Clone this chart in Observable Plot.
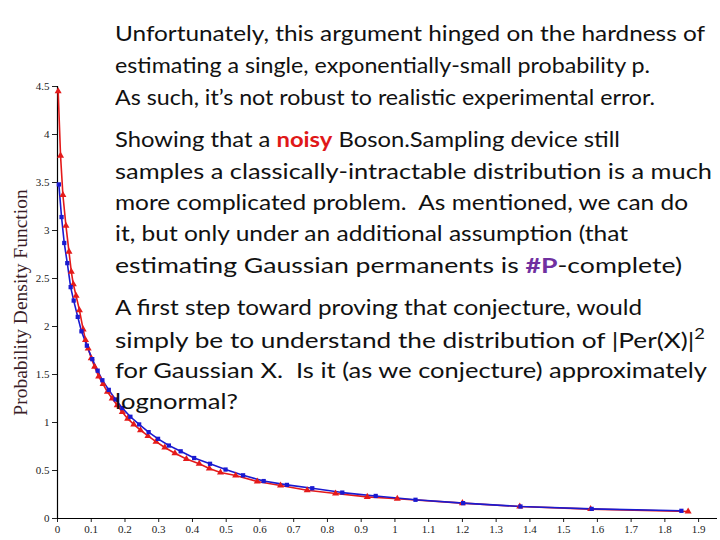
<!DOCTYPE html>
<html>
<head>
<meta charset="utf-8">
<script src="https://cdn.jsdelivr.net/npm/d3@7"></script>
<script src="https://cdn.jsdelivr.net/npm/@observablehq/plot@0.6"></script>
<style>
  html, body { margin: 0; padding: 0; background: #fff; }
  #wrap { position: relative; width: 720px; height: 540px; overflow: hidden; }
  #overlay { position: absolute; left: 115px; top: 0; font-family: Lato, "Open Sans", sans-serif; font-size: 21px; color: #111; }
  .ln { position: absolute; left: 0; white-space: nowrap; transform-origin: 0 50%; line-height: 1; }
  .noisy { color: #e01818; font-weight: bold; }
  .sharp { color: #7030a0; font-weight: bold; }
</style>
</head>
<body>
<div id="wrap"><div id="overlay"></div></div>
<script>
// ---- data ----
const xTicks = [0, 0.1, 0.2, 0.3, 0.4, 0.5, 0.6, 0.7, 0.8, 0.9, 1, 1.1, 1.2, 1.3, 1.4, 1.5, 1.6, 1.7, 1.8, 1.9];
const yTicks = [0, 0.5, 1, 1.5, 2, 2.5, 3, 3.5, 4, 4.5];

const redX = [0.002, 0.009, 0.016, 0.025, 0.034, 0.041, 0.047, 0.055, 0.065, 0.076, 0.083, 0.091, 0.100, 0.110, 0.122, 0.135, 0.148, 0.162, 0.177, 0.192, 0.208, 0.226, 0.246, 0.268, 0.292, 0.318, 0.348, 0.382, 0.420, 0.450, 0.483, 0.528, 0.592, 0.661, 0.740, 0.824, 0.918, 1.007, 1.200, 1.370, 1.580, 1.869];
const redY = [4.45, 3.78, 3.37, 3.05, 2.78, 2.57, 2.44, 2.32, 2.17, 1.97, 1.86, 1.77, 1.67, 1.58, 1.48, 1.40, 1.32, 1.25, 1.18, 1.11, 1.04, 0.98, 0.92, 0.86, 0.80, 0.74, 0.68, 0.62, 0.57, 0.52, 0.48, 0.448, 0.385, 0.344, 0.295, 0.26, 0.225, 0.205, 0.16, 0.125, 0.098, 0.073];

const blueX = [0.004, 0.012, 0.020, 0.029, 0.039, 0.048, 0.060, 0.071, 0.087, 0.103, 0.119, 0.133, 0.152, 0.172, 0.192, 0.216, 0.242, 0.270, 0.298, 0.330, 0.365, 0.405, 0.452, 0.498, 0.550, 0.611, 0.680, 0.755, 0.844, 0.943, 1.061, 1.202, 1.372, 1.583, 1.849];
const blueY = [3.48, 3.14, 2.87, 2.66, 2.41, 2.27, 2.10, 1.95, 1.80, 1.66, 1.54, 1.44, 1.34, 1.24, 1.15, 1.06, 0.98, 0.90, 0.83, 0.76, 0.70, 0.63, 0.57, 0.51, 0.45, 0.39, 0.35, 0.315, 0.27, 0.235, 0.195, 0.16, 0.125, 0.10, 0.08];

const yTitle = "Probability Density Function";

const textLines = [
  "Unfortunately, this argument hinged on the hardness of",
  "estimating a single, exponentially-small probability p.",
  "As such, it\u2019s not robust to realistic experimental error.",
  "Showing that a <span class='noisy'>noisy</span> Boson.Sampling device still",
  "samples a classically-intractable distribution is a much",
  "more complicated problem.&nbsp; As mentioned, we can do",
  "it, but only under an additional assumption (that",
  "estimating Gaussian permanents is <span class='sharp'>#P</span>-complete)",
  "A first step toward proving that conjecture, would",
  "simply be to understand the distribution of |Per(X)|<sup style='font-size:0.7em;vertical-align:0.6em'>2</sup>",
  "for Gaussian X.&nbsp; Is it (as we conjecture) approximately",
  "lognormal?"
];
const lineTop = [32, 64, 96, 138, 170, 201, 232, 264, 306, 338, 369, 400];
const lineWidth = [590, 535, 540, 505, 597, 573, 513, 567, 527, 590, 592, 123];

const red = redX.map((x, i) => ({x, y: redY[i]}));
const blue = blueX.map((x, i) => ({x, y: blueY[i]}));

const RED = "#e41a1a";
const BLUE = "#1a1ad0";

const chart = Plot.plot({
  width: 720,
  height: 540,
  marginLeft: 57,
  marginRight: 3,
  marginTop: 86,
  marginBottom: 22,
  x: {domain: [0, 1.956]},
  y: {domain: [0, 4.5]},
  style: {fontFamily: "'Liberation Serif', 'DejaVu Serif', serif", fontSize: "11px", color: "#222", background: "#fff"},
  marks: [
    Plot.axisX({ticks: xTicks, tickSize: 4, tickPadding: 3, tickFormat: d => String(d), label: null}),
    Plot.axisY({ticks: yTicks, tickSize: 5, tickPadding: 3, tickFormat: d => String(d), label: null}),
    Plot.ruleX([0], {stroke: "#000", strokeWidth: 1.2}),
    Plot.ruleY([0], {stroke: "#000", strokeWidth: 1.2}),
    Plot.text([yTitle], {text: d => d, frameAnchor: "left", textAnchor: "middle", rotate: -90, dx: -37, fontSize: 19.5, fontFamily: "'Liberation Serif', serif", fill: "#3a1d27"}),
    Plot.line(red, {x: "x", y: "y", stroke: RED, strokeWidth: 1.6}),
    Plot.line(blue, {x: "x", y: "y", stroke: BLUE, strokeWidth: 1.6}),
    Plot.dot(red, {x: "x", y: "y", symbol: "triangle", fill: RED, r: 2.6}),
    Plot.dot(blue, {x: "x", y: "y", symbol: "square", fill: BLUE, r: 2.4})
  ]
});
document.getElementById("wrap").prepend(chart);

const overlay = document.getElementById("overlay");
textLines.forEach((html, i) => {
  const d = document.createElement("div");
  d.className = "ln";
  d.innerHTML = html;
  overlay.appendChild(d);
  const h = d.getBoundingClientRect().height;
  d.style.top = (lineTop[i] - h / 2) + "px";
  const w = d.getBoundingClientRect().width;
  if (w > 0) d.style.transform = `scaleX(${lineWidth[i] / w})`;
});
</script>
</body>
</html>
